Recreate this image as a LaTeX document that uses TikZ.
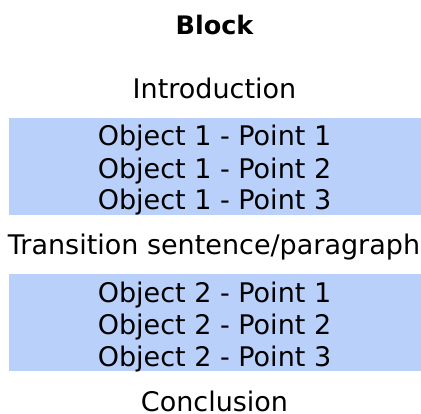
\documentclass[tikz,border=0pt]{standalone}
\usepackage{fontspec}
\setmainfont{DejaVu Sans}
\definecolor{pointfill}{HTML}{B9D1FA}
\begin{document}
\begin{tikzpicture}[x=1pt,y=1pt,
  line/.style={anchor=base,inner sep=0pt,font=\fontsize{27}{31}\selectfont},
  heading/.style={anchor=base,inner sep=0pt,font=\fontsize{25.5}{30}\selectfont\bfseries},
  pointbox/.style={fill=pointfill,draw=none}]
\useasboundingbox (0,0) rectangle (421,-414);
% shaded groups of points
\path[pointbox] (9,-118.3) rectangle (421,-214.7) coordinate (boxA);
\path[pointbox] (9,-274) rectangle (421,-371) coordinate (boxB);
% text lines
\node[heading] (title) at (214.5,-35) {Block};
\node[line] (intro) at (214.5,-99) {Introduction};
\node[line] (a1) at (214.5,-146) {Object 1 - Point 1};
\node[line] (a2) at (214.5,-178.3) {Object 1 - Point 2};
\node[line] (a3) at (214.5,-210) {Object 1 - Point 3};
\node[line] (trans) at (214,-255) {Transition sentence/paragraph};
\node[line] (b1) at (214.5,-302.5) {Object 2 - Point 1};
\node[line] (b2) at (214.5,-335) {Object 2 - Point 2};
\node[line] (b3) at (214.5,-366.5) {Object 2 - Point 3};
\node[line] (concl) at (214.5,-411.5) {Conclusion};
\end{tikzpicture}
\end{document}
